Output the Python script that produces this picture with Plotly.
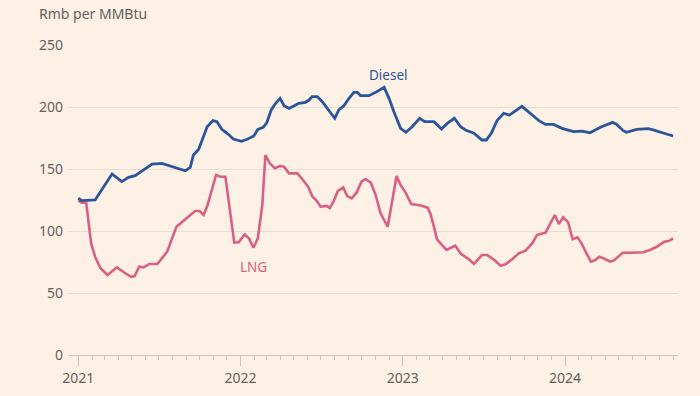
import plotly.graph_objects as go

diesel_dates = [
    "2021-01-01", "2021-01-09", "2021-02-08", "2021-03-18", "2021-04-09", "2021-04-24",
    "2021-05-09", "2021-06-16", "2021-07-08", "2021-08-30", "2021-09-10", "2021-09-17",
    "2021-09-29", "2021-10-18", "2021-10-31", "2021-11-09", "2021-11-20", "2021-12-02",
    "2021-12-16", "2022-01-03", "2022-01-16", "2022-01-31", "2022-02-09", "2022-02-21",
    "2022-03-01", "2022-03-11", "2022-03-21", "2022-03-31", "2022-04-09", "2022-04-20",
    "2022-05-01", "2022-05-12", "2022-05-27", "2022-06-04", "2022-06-11", "2022-06-23",
    "2022-07-04", "2022-07-19", "2022-08-01", "2022-08-10", "2022-08-22", "2022-09-02",
    "2022-09-13", "2022-09-21", "2022-09-28", "2022-10-17", "2022-11-01", "2022-11-20",
    "2022-12-01", "2022-12-12", "2022-12-27", "2023-01-08", "2023-01-22", "2023-02-08",
    "2023-02-19", "2023-03-12", "2023-03-29", "2023-04-11", "2023-04-27", "2023-05-11",
    "2023-05-22", "2023-06-10", "2023-06-28", "2023-07-08", "2023-07-19", "2023-08-01",
    "2023-08-16", "2023-08-29", "2023-09-11", "2023-09-26", "2023-10-04", "2023-10-11",
    "2023-10-22", "2023-11-03", "2023-11-18", "2023-12-06", "2023-12-25", "2024-01-20",
    "2024-02-07", "2024-02-26", "2024-03-23", "2024-04-17", "2024-04-26", "2024-05-11",
    "2024-05-18", "2024-06-10", "2024-07-06", "2024-07-17", "2024-08-01", "2024-08-16",
    "2024-08-31",
]
diesel_values = [
    126.4, 124.5, 125.0, 146.0, 139.8, 143.3,
    144.6, 154.0, 154.6, 148.6, 151.3, 161.3,
    165.9, 184.1, 189.0, 188.2, 182.0, 178.8,
    174.2, 172.3, 174.0, 176.6, 182.0, 183.6,
    187.3, 197.6, 203.0, 207.0, 201.1, 198.9,
    200.8, 203.0, 203.8, 205.6, 208.3, 208.3,
    204.3, 197.6, 190.9, 197.6, 201.1, 207.0,
    211.8, 211.8, 209.1, 209.1, 211.8, 215.9,
    207.0, 196.2, 182.8, 179.6, 184.1, 190.9,
    188.2, 188.2, 182.3, 186.8, 190.9, 184.1,
    181.5, 178.8, 173.4, 173.4, 178.8, 189.0,
    194.9, 193.5, 197.0, 200.5, 198.1, 195.7,
    192.7, 189.0, 186.0, 186.0, 182.8, 180.1,
    180.6, 179.3, 184.1, 187.6, 186.0, 180.9,
    179.6, 182.0, 182.5, 181.5, 179.6, 178.2,
    176.6,
]

lng_dates = [
    "2021-01-01", "2021-01-09", "2021-01-19", "2021-01-30", "2021-02-08", "2021-02-20",
    "2021-03-08", "2021-03-29", "2021-04-17", "2021-04-30", "2021-05-08", "2021-05-18",
    "2021-05-28", "2021-06-10", "2021-06-28", "2021-07-20", "2021-08-10", "2021-08-30",
    "2021-09-21", "2021-10-01", "2021-10-10", "2021-10-19", "2021-11-07", "2021-11-17",
    "2021-11-28", "2021-12-18", "2021-12-28", "2022-01-10", "2022-01-20", "2022-01-30",
    "2022-02-09", "2022-02-19", "2022-02-26", "2022-03-08", "2022-03-19", "2022-03-31",
    "2022-04-09", "2022-04-20", "2022-05-09", "2022-05-20", "2022-06-02", "2022-06-12",
    "2022-06-21", "2022-06-30", "2022-07-14", "2022-07-21", "2022-07-30", "2022-08-08",
    "2022-08-20", "2022-08-29", "2022-09-08", "2022-09-19", "2022-09-30", "2022-10-09",
    "2022-10-21", "2022-11-01", "2022-11-12", "2022-11-28", "2022-12-18", "2022-12-27",
    "2023-01-07", "2023-01-20", "2023-02-08", "2023-02-26", "2023-03-04", "2023-03-12",
    "2023-03-19", "2023-04-09", "2023-04-29", "2023-05-12", "2023-05-29", "2023-06-10",
    "2023-06-28", "2023-07-10", "2023-07-26", "2023-08-09", "2023-08-20", "2023-09-04",
    "2023-09-19", "2023-10-04", "2023-10-19", "2023-10-30", "2023-11-18", "2023-11-28",
    "2023-12-09", "2023-12-18", "2023-12-28", "2024-01-08", "2024-01-18", "2024-01-29",
    "2024-02-07", "2024-02-17", "2024-02-28", "2024-03-09", "2024-03-18", "2024-03-31",
    "2024-04-11", "2024-04-19", "2024-04-30", "2024-05-10", "2024-05-26", "2024-06-25",
    "2024-07-10", "2024-07-25", "2024-08-11", "2024-08-21", "2024-08-31",
]
lng_values = [
    124.5, 122.8, 122.8, 90.0, 79.3, 69.9,
    64.5, 70.7, 65.9, 63.1, 63.7, 71.2,
    70.7, 73.4, 73.4, 83.3, 103.5, 109.4,
    116.1, 116.1, 112.9, 121.0, 145.2, 143.8,
    143.8, 90.6, 90.9, 97.3, 94.1, 86.5,
    94.1, 121.0, 161.3, 154.6, 150.6, 152.4,
    151.9, 146.5, 146.5, 141.7, 135.7, 127.7,
    124.5, 119.6, 120.2, 118.5, 124.5, 132.3,
    135.2, 128.2, 126.3, 130.9, 139.8, 141.9,
    139.0, 129.0, 114.2, 103.5, 144.4, 137.1,
    131.2, 121.8, 120.7, 118.8, 114.2, 103.5,
    93.3, 84.7, 88.1, 81.5, 77.4, 73.4,
    80.6, 80.6, 76.6, 72.0, 73.1, 77.2,
    82.0, 84.1, 90.0, 96.8, 98.6, 105.6,
    112.9, 105.6, 111.0, 107.0, 93.3, 94.9,
    90.0, 82.8, 75.3, 76.6, 79.3, 77.4,
    75.3, 76.1, 79.8, 82.5, 82.5, 82.8,
    84.7, 87.3, 91.4, 91.9, 94.1,
]

year_ticks = ["2021-01-01", "2022-01-01", "2023-01-01", "2024-01-01"]
year_labels = ["2021", "2022", "2023", "2024"]
y_ticks = [0, 50, 100, 150, 200, 250]

BG = "#FDF1E6"
DIESEL = "#2A559C"
LNG = "#D95F85"
TXT = "#66605C"
FONT = "Noto Sans"

fig = go.Figure()
fig.add_trace(go.Scatter(x=lng_dates, y=lng_values, mode="lines", name="LNG",
                         line=dict(color=LNG, width=2.6)))
fig.add_trace(go.Scatter(x=diesel_dates, y=diesel_values, mode="lines", name="Diesel",
                         line=dict(color=DIESEL, width=2.8)))

fig.update_layout(
    width=700, height=396,
    paper_bgcolor=BG, plot_bgcolor=BG,
    margin=dict(l=68, r=22, t=45, b=41),
    showlegend=False,
    font=dict(family=FONT, size=13, color=TXT),
    xaxis=dict(
        type="date",
        range=["2020-12-09", "2024-09-11"],
        tickvals=year_ticks, ticktext=year_labels,
        ticks="outside", ticklen=10, tickcolor="#CFC6BD", tickwidth=1,
        showgrid=False, zeroline=False, automargin=False,
        showline=True, linecolor="#CFC6BD", linewidth=1,
        tickfont=dict(size=14, color=TXT),
        minor=dict(dtick="M1", tick0="2021-01-01", ticks="outside", ticklen=4,
                   tickcolor="#CFC6BD", showgrid=False),
    ),
    yaxis=dict(
        range=[0, 250],
        tickvals=y_ticks, automargin=False,
        showgrid=True, gridcolor="#E8DDD3", gridwidth=1,
        zeroline=False, showline=False, ticks="",
        tickfont=dict(size=14, color=TXT),
        ticklabelstandoff=4,
    ),
    annotations=[
        dict(text="Rmb per MMBtu", xref="paper", yref="paper", x=-0.051, y=1.103,
             xanchor="left", yanchor="middle", showarrow=False,
             font=dict(size=14, color=TXT, family=FONT)),
        dict(text="Diesel", xref="x", yref="y", x="2022-11-30", y=225.8,
             xanchor="center", yanchor="middle", showarrow=False,
             font=dict(size=13.5, color=DIESEL, family=FONT)),
        dict(text="LNG", xref="x", yref="y", x="2022-01-30", y=71.2,
             xanchor="center", yanchor="middle", showarrow=False,
             font=dict(size=13.5, color=LNG, family=FONT)),
    ],
)

fig.write_html(
    "out.html",
    config={"displayModeBar": False},
    post_script="document.body.style.margin='0';document.body.style.background='#FDF1E6';",
)
